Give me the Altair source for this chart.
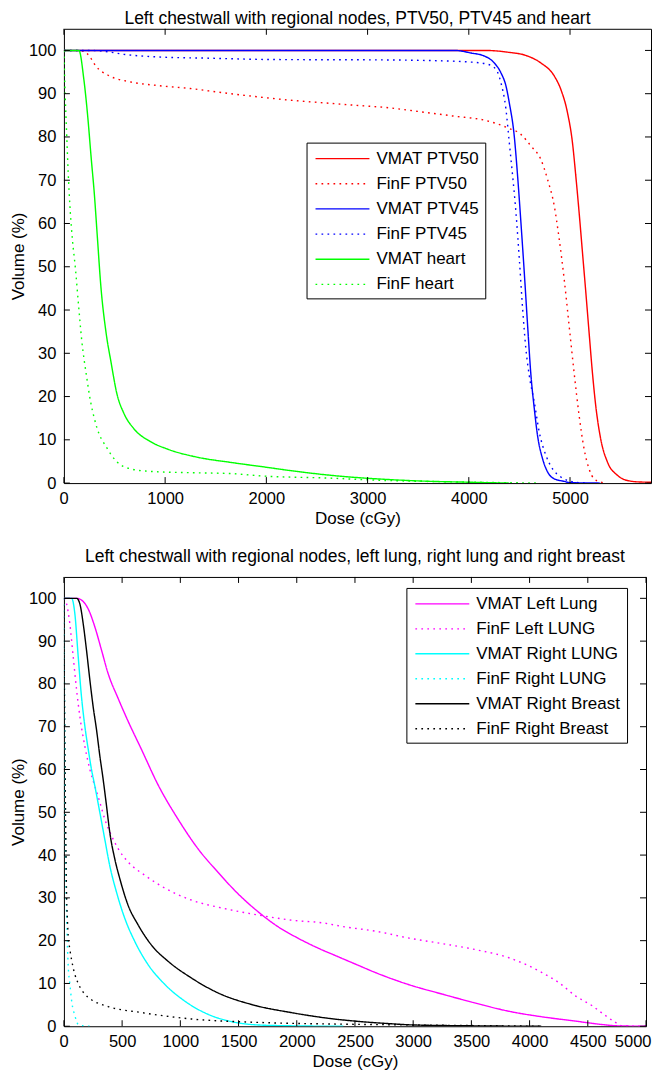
import altair as alt
import pandas as pd

FONT = "Liberation Sans"

# ---------------- top panel data ----------------
top_title = "Left chestwall with regional nodes, PTV50, PTV45 and heart"
top_names = ["VMAT PTV50", "FinF PTV50", "VMAT PTV45", "FinF PTV45", "VMAT heart", "FinF heart"]
top_colors = ["#ff0000", "#ff0000", "#0000ff", "#0000ff", "#00ff00", "#00ff00"]

vmat_ptv50_dose = [0, 4150, 4384, 4581, 4712, 4844, 4909, 4975, 5024, 5057, 5090, 5123, 5156, 5188,
                   5221, 5254, 5303, 5369, 5468, 5566, 5697, 5800]
vmat_ptv50_vol = [100, 100, 99.6, 98.7, 97.1, 94.1, 91.0, 85.6, 78.7, 71.0, 62.5, 53.3, 44.1, 34.9,
                  25.6, 17.9, 10.2, 4.9, 1.8, 0.6, 0.25, 0.2]

finf_ptv50_dose = [0, 120, 197, 263, 312, 443, 640, 920, 1248, 1576, 1905, 2233, 2562, 2890, 3186,
                   3530, 3858, 4187, 4384, 4515, 4614, 4712, 4778, 4844, 4893, 4942, 4991, 5040,
                   5090, 5139, 5188, 5237, 5303, 5350]
finf_ptv50_vol = [100, 100, 99.8, 98.3, 96.5, 94.2, 92.8, 91.9, 91.2, 90.2, 89.3, 88.5, 87.9, 87.3,
                  86.8, 85.8, 84.8, 83.7, 82.1, 80.6, 77.9, 74.8, 70.2, 64.1, 56.4, 47.2, 36.4,
                  25.6, 15.6, 7.9, 3.3, 1.0, 0.25, 0]

vmat_ptv45_dose = [0, 3858, 4023, 4154, 4252, 4318, 4367, 4400, 4449, 4482, 4515, 4548, 4581, 4614,
                   4647, 4679, 4729, 4778, 4844, 4942, 5000, 5300]
vmat_ptv45_vol = [100, 100, 99.4, 98.7, 97.1, 94.8, 91.8, 87.9, 80.2, 71.0, 60.2, 48.7, 36.4, 24.9,
                  17.2, 11.0, 5.6, 2.6, 1.0, 0.4, 0.1, 0]

finf_ptv45_dose = [0, 250, 394, 591, 920, 1445, 2036, 3186, 3530, 4023, 4187, 4269, 4318, 4367,
                   4400, 4433, 4466, 4499, 4532, 4564, 4597, 4647, 4696, 4762, 4827, 4909, 4975,
                   5040, 5150]
finf_ptv45_vol = [100, 100, 99.8, 99.1, 98.5, 98.2, 97.9, 97.8, 97.7, 97.3, 96.8, 95.6, 92.5, 86.4,
                  78.7, 71.0, 62.5, 51.8, 40.2, 31.0, 24.9, 18.7, 11.8, 6.4, 3.3, 1.4, 0.6,
                  0.25, 0]

vmat_heart_dose = [0, 148, 197, 235, 270, 300, 330, 365, 415, 465, 525, 591, 690, 854, 1018, 1314,
                   1642, 1987, 2299, 2726, 3186, 3500, 4000, 4400]
vmat_heart_vol = [100, 100, 93.3, 84.8, 75.0, 67.0, 57.0, 45.5, 35.0, 28.0, 20.5, 16.2, 12.6, 9.6,
                  7.9, 6.0, 4.8, 3.7, 2.7, 1.6, 0.85, 0.5, 0.2, 0]

finf_heart_dose = [0, 12, 25, 42, 62, 85, 112, 145, 176, 225, 262, 300, 330, 420, 520, 657, 854,
                   1248, 1642, 1987, 2562, 3186, 3800, 4700]
finf_heart_vol = [100, 90, 82, 72, 63, 56, 50, 41, 33, 24.5, 19, 15, 12.5, 8.3, 5.0, 3.3, 2.7,
                  2.4, 2.2, 1.6, 1.2, 0.6, 0.3, 0]

top_doses = [vmat_ptv50_dose, finf_ptv50_dose, vmat_ptv45_dose, finf_ptv45_dose, vmat_heart_dose, finf_heart_dose]
top_vols = [vmat_ptv50_vol, finf_ptv50_vol, vmat_ptv45_vol, finf_ptv45_vol, vmat_heart_vol, finf_heart_vol]
top_xticks = [0, 1000, 2000, 3000, 4000, 5000]

# ---------------- bottom panel data ----------------
bottom_title = "Left chestwall with regional nodes, left lung, right lung and right breast"
bottom_names = ["VMAT Left Lung", "FinF Left LUNG", "VMAT Right LUNG", "FinF Right LUNG",
                "VMAT Right Breast", "FinF Right Breast"]
bottom_colors = ["#ff00ff", "#ff00ff", "#00ffff", "#00ffff", "#000000", "#000000"]

vmat_llung_dose = [0, 109, 151, 209, 266, 323, 380, 466, 551, 666, 809, 980, 1151, 1323, 1494, 1666,
                   1837, 2009, 2180, 2351, 2523, 2680, 2965, 3251, 3537, 3822, 4108, 4394, 4623,
                   4750, 5000]
vmat_llung_vol = [100, 100, 99.6, 97.5, 93.3, 87.9, 82.4, 76.6, 71.3, 64.7, 56.4, 48.4, 41.5, 36.0,
                  31.0, 26.8, 23.3, 20.6, 18.3, 16.3, 14.3, 12.5, 9.7, 7.5, 5.4, 3.5, 2.2, 1.2, 0.4,
                  0.1, 0]

finf_llung_dose = [0, 23, 51, 80, 109, 137, 180, 223, 266, 309, 351, 409, 466, 551, 694, 866, 1094,
                   1380, 1666, 1951, 2237, 2394, 2680, 2965, 3251, 3537, 3822, 3994, 4108, 4251,
                   4394, 4537, 4651, 4737, 4794, 5000]
finf_llung_vol = [100, 98.7, 94.0, 86.3, 78.6, 72.4, 65.4, 60.0, 56.1, 52.3, 48.4, 44.5, 41.5, 38.4,
                  35.3, 32.3, 29.5, 27.5, 26.0, 24.8, 24.1, 23.3, 22.2, 20.6, 19.3, 17.9, 16.0,
                  14.1, 12.5, 10.2, 7.1, 4.8, 2.5, 0.9, 0.1, 0]

vmat_rlung_dose = [0, 66, 94, 123, 151, 180, 209, 237, 266, 309, 351, 394, 451, 523, 609, 723, 866,
                   1037, 1237, 1437, 1666, 1951, 2400]
vmat_rlung_vol = [100, 100, 96.4, 86.3, 77.0, 70.1, 64.7, 60.0, 56.1, 49.9, 43.7, 37.5, 31.4, 25.2,
                  19.8, 14.4, 9.8, 5.9, 2.8, 1.1, 0.3, 0.1, 0]

finf_rlung_dose = [0, 3, 6, 11, 16, 24, 37, 51, 66, 94, 123, 160, 250]
finf_rlung_vol = [100, 85, 72, 50, 36, 25, 14, 10, 6, 2.5, 0.4, 0.1, 0]

vmat_rbreast_dose = [0, 109, 137, 166, 194, 223, 251, 280, 309, 337, 366, 394, 437, 480, 551, 637,
                     751, 894, 1094, 1323, 1609, 1951, 2351, 2500, 2800, 3000, 3500, 4100]
vmat_rbreast_vol = [100, 100, 98.7, 94.0, 87.9, 80.9, 74.7, 69.3, 63.1, 57.7, 51.5, 45.3, 39.1,
                    34.5, 28.3, 23.7, 19.0, 15.2, 11.3, 7.8, 5.1, 3.2, 1.6, 1.2, 0.6, 0.3, 0.1, 0]

finf_rbreast_dose = [0, 4, 10, 16, 22, 30, 37, 51, 66, 90, 123, 180, 237, 380, 666, 1094, 1666,
                     2351, 3000, 4100]
finf_rbreast_vol = [100, 80, 60, 45, 32, 25, 21, 18, 15.5, 12.5, 10, 7.5, 6.2, 4.6, 3.2, 1.7, 0.9,
                    0.5, 0.3, 0]

bottom_doses = [vmat_llung_dose, finf_llung_dose, vmat_rlung_dose, finf_rlung_dose, vmat_rbreast_dose, finf_rbreast_dose]
bottom_vols = [vmat_llung_vol, finf_llung_vol, vmat_rlung_vol, finf_rlung_vol, vmat_rbreast_vol, finf_rbreast_vol]
bottom_xticks = [0, 500, 1000, 1500, 2000, 2500, 3000, 3500, 4000, 4500, 5000]

yticks = [0, 10, 20, 30, 40, 50, 60, 70, 80, 90, 100]
dashes = [[1, 0], [1.7, 4.3], [1, 0], [1.7, 4.3], [1, 0], [1.7, 4.3]]


def long_df(names, doses, vols):
    rows = []
    for n, d, v in zip(names, doses, vols):
        for i, (a, b) in enumerate(zip(d, v)):
            rows.append({"series": n, "dose": a, "vol": b, "idx": i})
    return pd.DataFrame(rows)


def panel(names, colors, doses, vols, xmax, xticks, W, H, title, title_offset, lx, ly, row_pad):
    df = long_df(names, doses, vols)
    xscale = alt.Scale(domain=[0, xmax], nice=False, zero=False)
    yscale = alt.Scale(domain=[0, 105], nice=False)
    xaxis = alt.Axis(
        values=xticks, title="Dose (cGy)", format="d", ticks=False, domain=False, grid=False,
        labelFont=FONT, labelFontSize=16.5, labelColor="black", labelPadding=7,
        labelFlush=True, labelFlushOffset=5, labelOverlap=False,
        titleFont=FONT, titleFontSize=17, titleFontWeight="normal", titleColor="black",
        titlePadding=4)
    yaxis = alt.Axis(
        values=yticks, title="Volume (%)", format="d", ticks=False, domain=False, grid=False,
        labelFont=FONT, labelFontSize=16.5, labelColor="black", labelPadding=8,
        labelOverlap=False,
        titleFont=FONT, titleFontSize=17, titleFontWeight="normal", titleColor="black",
        titlePadding=1)
    leg = alt.Legend(
        title=None, orient="none", legendX=lx, legendY=ly,
        strokeColor="black", fillColor="white", padding=6, cornerRadius=0,
        symbolType="M-3,0L3,0", symbolSize=324, symbolStrokeWidth=1.4,
        symbolOffset=20, labelOffset=24, rowPadding=row_pad,
        labelFont=FONT, labelFontSize=17, labelColor="black", labelLimit=0,
    )
    lines = alt.Chart(df).mark_line(strokeWidth=1.4, clip=True, interpolate="monotone").encode(
        x=alt.X("dose:Q", scale=xscale, axis=xaxis),
        y=alt.Y("vol:Q", scale=yscale, axis=yaxis),
        color=alt.Color("series:N", scale=alt.Scale(domain=names, range=colors), legend=leg),
        strokeDash=alt.StrokeDash("series:N", scale=alt.Scale(domain=names, range=dashes), legend=leg),
        order="idx:Q",
    )
    tlen = 6
    xt = pd.DataFrame({"dose": xticks})
    yt = pd.DataFrame({"vol": yticks})
    rule = dict(color="black", strokeWidth=1)
    bx = alt.Chart(xt).mark_rule(**rule).encode(
        x=alt.X("dose:Q", scale=xscale, axis=xaxis), y=alt.value(H), y2=alt.value(H - tlen))
    tx = alt.Chart(xt).mark_rule(**rule).encode(
        x=alt.X("dose:Q", scale=xscale, axis=xaxis), y=alt.value(0), y2=alt.value(tlen))
    lyr = alt.Chart(yt).mark_rule(**rule).encode(
        y=alt.Y("vol:Q", scale=yscale, axis=yaxis), x=alt.value(0), x2=alt.value(tlen))
    ryr = alt.Chart(yt).mark_rule(**rule).encode(
        y=alt.Y("vol:Q", scale=yscale, axis=yaxis), x=alt.value(W), x2=alt.value(W - tlen))
    return alt.layer(lines, bx, tx, lyr, ryr).properties(
        width=W, height=H,
        title=alt.TitleParams(title, font=FONT, fontSize=17.5, fontWeight="normal", color="black",
                              anchor="middle", offset=title_offset),
    )


top = panel(top_names, top_colors, top_doses, top_vols, 5800, top_xticks, 588, 455,
            top_title, 1, 243, 114, 7.2)
bottom = panel(bottom_names, bottom_colors, bottom_doses, bottom_vols, 5000, bottom_xticks, 583, 450,
               bottom_title, 10.5, 343, 11, 7.0)

chart = alt.vconcat(top, bottom, spacing=21).resolve_scale(
    color="independent", strokeDash="independent", x="independent", y="independent"
).resolve_legend(
    color="independent", strokeDash="independent"
).properties(
    padding=0, background="white"
).configure_view(stroke="black", strokeWidth=1)

chart.save("out.html", embed_options={"renderer": "svg", "actions": False})
